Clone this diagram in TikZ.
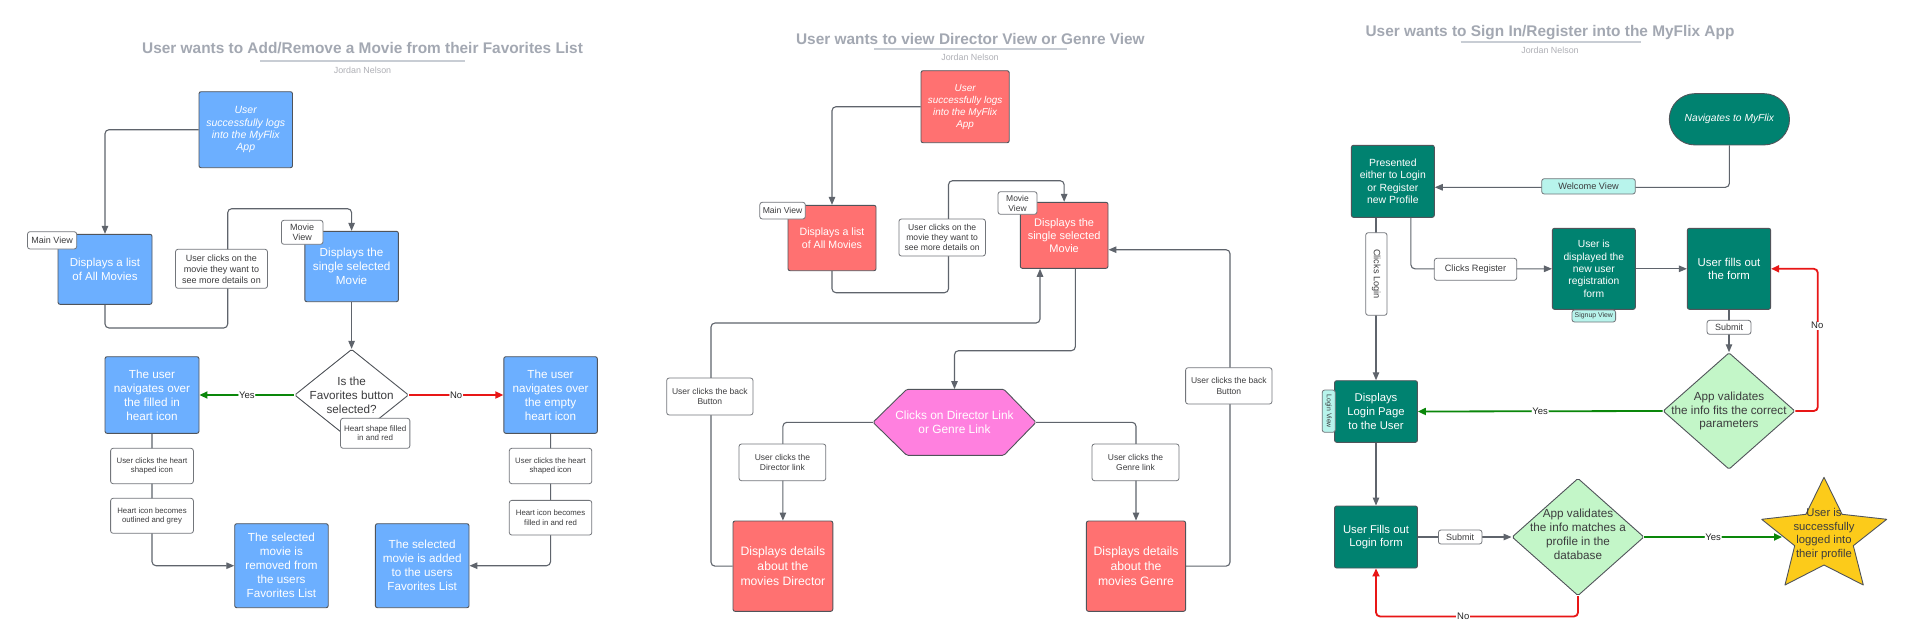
\documentclass[tikz,border=0pt]{standalone}
\usepackage{fontspec}
\setmainfont{Liberation Sans}
\usetikzlibrary{arrows.meta,shapes.geometric,calc}
\definecolor{blueF}{RGB}{108,175,255}
\definecolor{redF}{RGB}{255,113,113}
\definecolor{magF}{RGB}{255,128,223}
\definecolor{tealF}{RGB}{0,130,112}
\definecolor{greenF}{RGB}{195,246,200}
\definecolor{cyanF}{RGB}{184,244,236}
\definecolor{goldF}{RGB}{252,203,26}
\definecolor{bordC}{RGB}{80,84,90}
\definecolor{connC}{RGB}{95,100,108}
\definecolor{lblT}{RGB}{60,60,62}
\definecolor{ttlC}{RGB}{163,168,178}
\definecolor{ulC}{RGB}{200,205,212}
\definecolor{authC}{RGB}{175,176,182}
\definecolor{yesC}{RGB}{10,135,10}
\definecolor{noC}{RGB}{232,22,22}
\newcommand{\myfz}[2]{\fontsize{#1}{#2}\selectfont}
\pgfdeclarelayer{back}\pgfdeclarelayer{bg}\pgfsetlayers{back,bg,main}
\begin{document}
\begin{tikzpicture}[x=1pt,y=-1pt,
  box/.style={draw=bordC, line width=0.9pt, rounded corners=2pt, text=white, align=center, inner sep=0pt, font=\myfz{11.7}{14}},
  bluebox/.style={box, fill=blueF},
  redbox/.style={box, fill=redF},
  tealbox/.style={box, fill=tealF},
  lbl/.style={draw=bordC!80, fill=white, line width=0.8pt, rounded corners=2.5pt, text=lblT, align=center, inner sep=0pt},
  cyanlbl/.style={lbl, fill=cyanF},
  dia/.style={diamond, draw=bordC, line width=0.9pt, rounded corners=1.5pt, inner sep=0pt},
  dtxt/.style={text=lblT, align=center, inner sep=0pt, font=\myfz{11.7}{13.9}},
  ttl/.style={text=ttlC, font=\bfseries\myfz{15.4}{18}, inner sep=0pt},
  auth/.style={text=authC, font=\myfz{8.9}{10}, inner sep=0pt},
  ul/.style={draw=ulC, line width=1.8pt},
  conn/.style={draw=connC, line width=1.1pt, rounded corners=4pt},
  arr/.style={conn, -{Triangle[length=8pt,width=6.5pt]}},
  yesarr/.style={arr, draw=yesC, line width=1.8pt, -{Triangle[length=8pt,width=7pt]}},
  noarr/.style={arr, draw=noC, line width=1.8pt, -{Triangle[length=8pt,width=7pt]}},
  yn/.style={fill=white, inner sep=0.8pt, text=black!85, font=\myfz{9.5}{11}},
  ]
\begin{pgfonlayer}{back}\fill[white] (0,0) rectangle (1920,640);\end{pgfonlayer}
\useasboundingbox (0,0) rectangle (1920,640);

% ================= Panel 1 =================
\node[ttl] (t1) at (362.6,48.3) {User wants to Add/Remove a Movie from their Favorites List};
\draw[ul] (260,61.3) -- (465,61.3);
\node[auth] (a1) at (362.5,70.7) {Jordan Nelson};

\node[bluebox, minimum width=93.5, minimum height=76, font=\itshape\myfz{10.5}{12.3}] (s1) at (245.75,129.7) {User\\successfully logs\\into the MyFlix\\App};
\node[bluebox, minimum width=94, minimum height=70, font=\myfz{11.5}{14}] (list1) at (105,269.3) {Displays a list\\of All Movies};
\node[lbl, minimum width=49.2, minimum height=17.3, font=\myfz{9}{11}] (mv1) at (52.1,240.35) {Main View};
\node[bluebox, minimum width=93.6, minimum height=70.4] (movie1) at (351.6,266.5) {Displays the\\single selected\\Movie};
\node[lbl, minimum width=41.6, minimum height=24, font=\myfz{9}{10.5}] (mov1) at (302.2,232.3) {Movie\\View};
\node[lbl, minimum width=92, minimum height=39, font=\myfz{9}{11}] (cm1) at (221.5,268.8) {User clicks on the\\movie they want to\\see more details on};
\node[dia, fill=white, minimum width=114, minimum height=91.4, label={[dtxt]center:{Is the\\Favorites button\\selected?}}] (d1) at (351.6,395) {};
\node[lbl, minimum width=69.3, minimum height=30, font=\myfz{8}{9.3}] (hf1) at (375.2,433.3) {Heart shape filled\\in and red};
\node[bluebox, minimum width=94, minimum height=76.6] (nav1) at (152,395) {The user\\navigates over\\the filled in\\heart icon};
\node[bluebox, minimum width=93.5, minimum height=76.6] (nav2) at (550.55,395) {The user\\navigates over\\the empty\\heart icon};
\node[lbl, minimum width=82.8, minimum height=35.4, font=\myfz{7.8}{9.4}] (hc1) at (152,466) {User clicks the heart\\shaped icon};
\node[lbl, minimum width=82.8, minimum height=35, font=\myfz{7.8}{9.4}] (ho1) at (152,515.8) {Heart icon becomes\\outlined and grey};
\node[bluebox, minimum width=93.5, minimum height=84] (removed) at (281.45,565.7) {The selected\\movie is\\removed from\\the users\\Favorites List};
\node[bluebox, minimum width=93.6, minimum height=84] (added) at (422.2,565.7) {The selected\\movie is added\\to the users\\Favorites List};
\node[lbl, minimum width=82.5, minimum height=35.4, font=\myfz{7.8}{9.4}] (hc2) at (550.55,466) {User clicks the heart\\shaped icon};
\node[lbl, minimum width=82.5, minimum height=34.7, font=\myfz{7.8}{9.4}] (hf2) at (550.55,517.7) {Heart icon becomes\\filled in and red};

\begin{pgfonlayer}{bg}
\draw[arr] (s1.west) -| (list1.north);
\draw[arr] (list1.south) |- (227.7,328) -- (227.7,208.7) -| (movie1.north);
\draw[arr] (movie1.south) -- (d1.north);
\draw[yesarr] (d1.west) -- node[yn] (y1) {Yes} (nav1.east);
\draw[noarr] (d1.east) -- node[yn] (n1) {No} (nav2.west);
\draw[arr] (nav1.south) |- (removed.west);
\draw[arr] (nav2.south) |- (added.east);
\end{pgfonlayer}

% ================= Panel 2 =================
\node[ttl] (t2) at (970.4,39) {User wants to view Director View or Genre View};
\draw[ul] (874,49) -- (1066.7,49);
\node[auth] (a2) at (970,57.3) {Jordan Nelson};

\node[redbox, minimum width=88.2, minimum height=72, font=\itshape\myfz{9.9}{12}] (s2) at (965.1,106.7) {User\\successfully logs\\into the MyFlix\\App};
\node[redbox, minimum width=88, minimum height=65.4, font=\myfz{10.6}{13.3}] (list2) at (832,238) {Displays a list\\of All Movies};
\node[lbl, minimum width=45.5, minimum height=16.7, font=\myfz{8.6}{10}] (mv2) at (782.55,210.65) {Main View};
\node[redbox, minimum width=87.7, minimum height=66, font=\myfz{11}{13.2}] (movie2) at (1064.15,235.3) {Displays the\\single selected\\Movie};
\node[lbl, minimum width=39, minimum height=22.6, font=\myfz{8.5}{10}] (mov2) at (1017.5,203) {Movie\\View};
\node[lbl, minimum width=86.5, minimum height=37, font=\myfz{8.6}{10.3}] (cm2) at (942.15,237.5) {User clicks on the\\movie they want to\\see more details on};

\filldraw[fill=magF, draw=bordC, line width=0.9pt, rounded corners=1.5pt] (873,422.3) -- (906.7,389.3) -- (1003.9,389.3) -- (1036,422.3) -- (1003.9,455.3) -- (906.7,455.3) -- cycle;
\node[minimum width=163, minimum height=66, inner sep=0pt, text=white, align=center, font=\myfz{11.9}{14.7}] (hex) at (954.5,422.3) {Clicks on Director Link\\or Genre Link};

\node[lbl, minimum width=86.8, minimum height=36.7, font=\myfz{8.5}{10.3}] (dl) at (782.4,462.35) {User clicks the\\Director link};
\node[redbox, minimum width=99.8, minimum height=90.3, font=\myfz{12.2}{14.7}] (director) at (782.9,566.15) {Displays details\\about the\\movies Director};
\node[lbl, minimum width=87, minimum height=36.7, font=\myfz{8.5}{10.3}] (gl) at (1135.5,462.35) {User clicks the\\Genre link};
\node[redbox, minimum width=99.2, minimum height=90.3, font=\myfz{12.2}{14.7}] (genre) at (1136,566.15) {Displays details\\about the\\movies Genre};
\node[lbl, minimum width=86.3, minimum height=37, font=\myfz{8.5}{10.3}] (b1) at (709.85,396.5) {User clicks the back\\Button};
\node[lbl, minimum width=86.4, minimum height=36.3, font=\myfz{8.5}{10.3}] (b2) at (1228.8,385.85) {User clicks the back\\Button};

\begin{pgfonlayer}{bg}
\draw[arr] (s2.west) -| (list2.north);
\draw[arr] (list2.south) |- (948.5,292.7) -- (948.5,180.7) -| (movie2.north);
\draw[arr] ($(movie2.south)+(11.2,0)$) |- (954.5,350.7) -- (hex.north);
\draw[arr] (hex.west) -| (director.north);
\draw[arr] (hex.east) -| (genre.north);
\draw[arr] (director.west) -| (711,323) -| ($(movie2.south)+(-24.15,0)$);
\draw[arr] (genre.east) -| (1230,249.7) -- ($(movie2.east)+(0,14.4)$);
\end{pgfonlayer}

% ================= Panel 3 =================
\node[ttl] (t3) at (1550,32.3) {User wants to Sign In/Register into the MyFlix App};
\draw[ul] (1460.5,41.7) -- (1641,41.7);
\node[auth] (a3) at (1550,50) {Jordan Nelson};

\node[tealbox, rounded corners=25.6pt, minimum width=120.2, minimum height=51.3, font=\itshape\myfz{10.25}{12}] (nav) at (1729.4,119.3) {Navigates to MyFlix};
\node[tealbox, minimum width=82.9, minimum height=72, font=\myfz{10.4}{12.4}] (presented) at (1392.85,181.3) {Presented\\either to Login\\or Register\\new Profile};
\node[cyanlbl, minimum width=93.6, minimum height=15.3, font=\myfz{9.2}{11}] (wv) at (1588.5,186.35) {Welcome View};
\node[lbl, rotate=-90, minimum width=82.6, minimum height=21.3, font=\myfz{9.2}{11}] (cl) at (1376.35,274) {Clicks Login};
\node[lbl, minimum width=82.4, minimum height=22, font=\myfz{9.2}{11}] (cr) at (1475.5,269.3) {Clicks Register};
\node[tealbox, minimum width=82.9, minimum height=81, font=\myfz{10.3}{12.4}] (userdisp) at (1593.85,268.8) {User is\\displayed the\\new user\\registration\\form};
\node[cyanlbl, minimum width=43.6, minimum height=12, font=\myfz{6.9}{8}] (sv) at (1593.8,316) {Signup View};
\node[tealbox, minimum width=83.3, minimum height=81, font=\myfz{11.4}{13.6}] (fillform) at (1729,268.8) {User fills out\\the form};
\node[lbl, minimum width=43.9, minimum height=14, font=\myfz{9}{11}] (sb1) at (1729,327.3) {Submit};
\node[dia, fill=greenF, minimum width=132, minimum height=116.6, label={[dtxt]center:{App validates\\the info fits the correct\\parameters}}] (v1) at (1729,411) {};
\node[tealbox, minimum width=82.8, minimum height=61.6, font=\myfz{11.3}{13.6}] (login) at (1376,411.5) {Displays\\Login Page\\to the User};
\node[cyanlbl, rotate=-90, minimum width=42.3, minimum height=13.1, font=\myfz{6.9}{8}] (lv) at (1328.75,411.15) {Login View};
\node[tealbox, minimum width=82.8, minimum height=62, font=\myfz{11.3}{13.6}] (loginform) at (1376,537) {User Fills out\\Login form};
\node[lbl, minimum width=43.6, minimum height=14, font=\myfz{9}{11}] (sb2) at (1460.2,537) {Submit};
\node[dia, fill=greenF, minimum width=132, minimum height=117.4, label={[dtxt, yshift=2.5pt]center:{App validates\\the info matches a\\profile in the\\database}}] (v2) at (1578,537) {};

\filldraw[fill=goldF, draw=bordC, line width=0.9pt, line join=round] (1824,477.3) -- (1842.1,514.3) -- (1886.7,519.3) -- (1853.3,545.7) -- (1863.3,585) -- (1824,565) -- (1785,585) -- (1794.7,545.7) -- (1761.7,519.3) -- (1805.9,514.3) -- cycle;
\node[text=lblT, align=center, inner sep=0pt, font=\myfz{11.3}{13.8}] (star) at (1824,534) {User is\\successfully\\logged into\\their profile};
\coordinate (starin) at (1782,537);

\begin{pgfonlayer}{bg}
\draw[arr] (nav.south) |- ($(presented.east)+(0,6)$);
\draw[arr] ($(presented.south)+(-16.85,0)$) -- (login.north);
\draw[arr] ($(presented.south)+(18.05,0)$) |- (userdisp.west);
\draw[arr] (userdisp.east) -- (fillform.west);
\draw[arr] (fillform.south) -- (v1.north);
\draw[noarr] (v1.east) -| ($(fillform.east)+(46.7,0)$) -- (fillform.east);
\draw[yesarr] (v1.west) -- node[yn] (y3) {Yes} (login.east);
\draw[arr] (login.south) -- (loginform.north);
\draw[arr] (loginform.east) -- (v2.west);
\draw[yesarr] (v2.east) -- node[yn] (y4) {Yes} (starin);
\draw[noarr] (v2.south) |- ($(loginform.south)+(0,48)$) -- (loginform.south);
\end{pgfonlayer}
\node[yn] (n3) at (1817.3,325.7) {No};
\node[yn] (n4) at (1463.2,616) {No};
\end{tikzpicture}
\end{document}
